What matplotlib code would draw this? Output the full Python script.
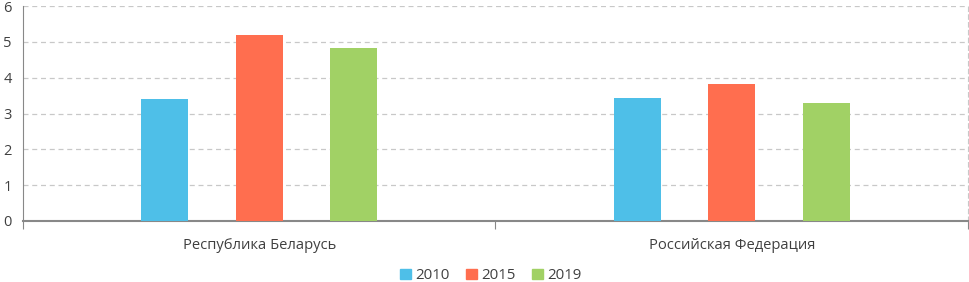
import numpy as np
import matplotlib
matplotlib.use("Agg")
import matplotlib.pyplot as plt
from matplotlib.patches import Patch

# Данные
categories = ["Республика Беларусь", "Российская Федерация"]
years = ["2010", "2015", "2019"]
values_2010 = [3.41, 3.44]
values_2015 = [5.19, 3.81]
values_2019 = [4.83, 3.29]
colors = ["#4EBFE8", "#FF6E4F", "#A1D165"]

plt.rcParams["font.family"] = ["Open Sans", "DejaVu Sans"]

fig = plt.figure(figsize=(9.7, 2.82), dpi=100)
ax = fig.add_axes([23 / 970, 1 - 221 / 282, 945 / 970, 215 / 282])

x = np.arange(len(categories))
width = 0.1
for i, (vals, col) in enumerate(zip([values_2010, values_2015, values_2019], colors)):
    ax.bar(x + (i - 1) * 0.2, vals, width, color=col, zorder=3)

ax.set_xlim(-0.5, 1.5)
ax.set_ylim(0, 6)
ax.set_yticks(range(0, 7))
ax.yaxis.grid(True, linestyle=(0, (4, 3)), color="#c8c8c8", linewidth=0.9, zorder=0)

ax.set_xticks([-0.5, 0.5, 1.5])
ax.set_xticklabels([])
ax.set_xticks(x, minor=True)
ax.set_xticklabels(categories, minor=True)
ax.tick_params(axis="x", which="major", length=6, color="#888888", direction="out")
ax.tick_params(axis="x", which="minor", length=0, pad=12, labelsize=10.6, labelcolor="#404040")
ax.tick_params(axis="y", length=0, pad=8, labelsize=10.5, labelcolor="#404040")

ax.spines["top"].set_visible(False)
ax.spines["right"].set_linestyle((0, (4, 3)))
ax.spines["right"].set_color("#c8c8c8")
ax.spines["left"].set_color("#888888")
ax.spines["bottom"].set_color("#888888")
ax.spines["bottom"].set_linewidth(1.5)

handles = [Patch(color=c, label=y) for c, y in zip(colors, years)]
fig.legend(handles=handles, loc="center", bbox_to_anchor=(0.506, 0.022), ncol=3,
           frameon=False, fontsize=10.8, handlelength=0.7, handleheight=0.7,
           handletextpad=0.3, columnspacing=1.1, labelcolor="#404040")

fig.savefig("out.png", dpi=100)
